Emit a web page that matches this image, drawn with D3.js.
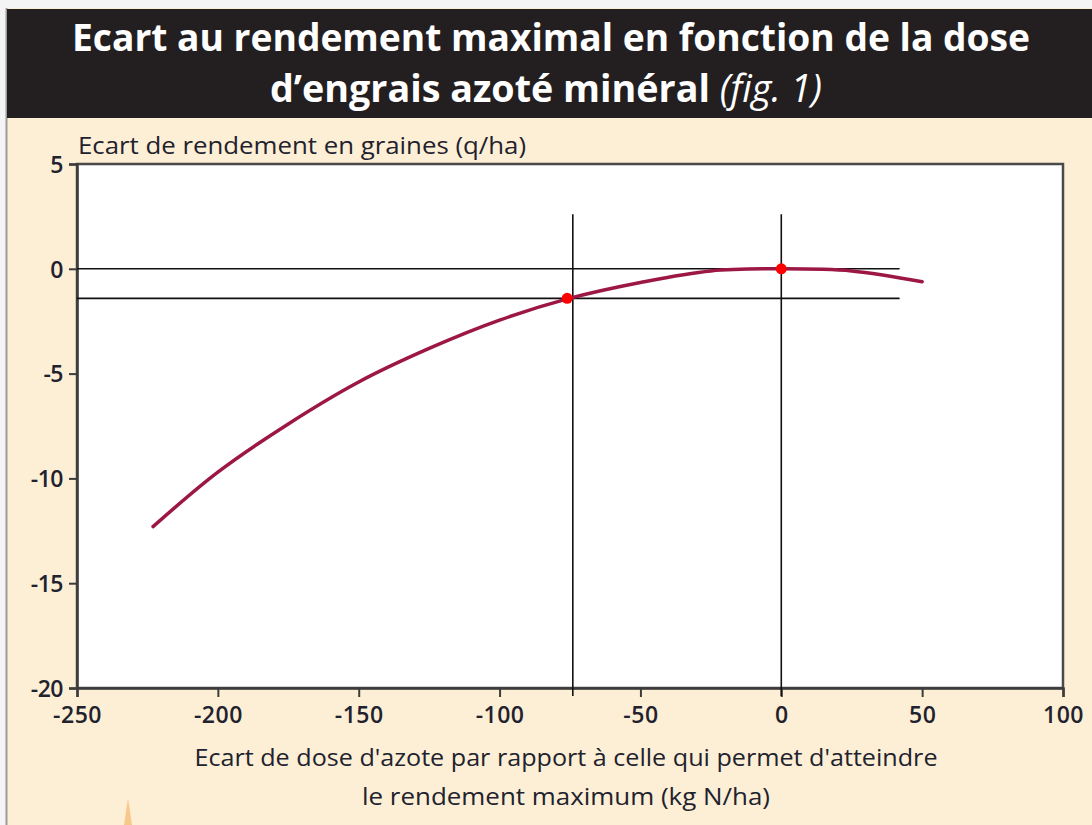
<!DOCTYPE html>
<html>
<head>
<meta charset="utf-8">
<script src="https://cdn.jsdelivr.net/npm/d3@7"></script>
<style>
	body { margin: 0; background: #ffffff; }
	svg { display: block; }
</style>
</head>
<body>
<div class="chart"></div>
<script>
///////////////////////////////////////////////////////////////////////////
//////////////////////////////// Data /////////////////////////////////////
///////////////////////////////////////////////////////////////////////////

	//Dose gap (kg N/ha) and yield gap (q/ha)
	var doseGap  = [-223, -200, -175, -150, -125, -100, -75, -50, -25, 0, 25, 50];
	var yieldGap = [-12.3, -9.7, -7.4, -5.4, -3.8, -2.45, -1.4, -0.65, -0.1, 0, -0.1, -0.62];

	//Marked points on the curve
	var markDose  = [-76, 0];
	var markYield = [-1.41, 0];

	//Reference lines
	var refVertical   = [-74, 0];
	var refHorizontal = [0, -1.41];

	var xTicks = [-250, -200, -150, -100, -50, 0, 50, 100];
	var yTicks = [5, 0, -5, -10, -15, -20];

	var titleLines = ["Ecart au rendement maximal en fonction de la dose", "d\u2019engrais azoté minéral "];
	var xTitleLines = ["Ecart de dose d'azote par rapport à celle qui permet d'atteindre", "le rendement maximum (kg N/ha)"];
	var yTitle = "Ecart de rendement en graines (q/ha)";

///////////////////////////////////////////////////////////////////////////
//////////////////////////////// Setup ////////////////////////////////////
///////////////////////////////////////////////////////////////////////////

	var width = 1092, height = 825;
	var margin = {left: 77, top: 164, right: 29, bottom: 137},
		plotWidth = width - margin.left - margin.right,
		plotHeight = height - margin.top - margin.bottom;

	var font = "'Open Sans', 'Noto Sans', sans-serif";

	var svg = d3.select(".chart").append("svg")
		.attr("width", width)
		.attr("height", height);

	//Cream page and frame
	svg.append("rect")
		.attr("x", 0).attr("y", 0)
		.attr("width", width).attr("height", height)
		.attr("fill", "#f4f4f4");
	svg.append("rect")
		.attr("x", 7).attr("y", 8)
		.attr("width", width - 7).attr("height", height - 8)
		.attr("fill", "#fdefd5");
	svg.append("line")
		.attr("x1", 6.5).attr("x2", 6.5)
		.attr("y1", 8).attr("y2", height)
		.style("stroke", "#9a9a9a")
		.style("stroke-width", 2);

	//Small orange mark bottom-left
	svg.append("path")
		.attr("d", "M124,825 L128,798 L132,825 Z")
		.attr("fill", "#f8c88a");

	//////////////////////////////////////////////////////
	//////////////////// Title band //////////////////////
	//////////////////////////////////////////////////////

	svg.append("rect")
		.attr("x", 7).attr("y", 9)
		.attr("width", width - 7).attr("height", 109)
		.attr("fill", "#231f20");

	svg.append("text")
		.attr("x", 551)
		.attr("y", 51)
		.style("text-anchor", "middle")
		.attr("fill", "#ffffff")
		.style("font-family", font)
		.style("font-weight", "bold")
		.style("font-size", "38px")
		.attr("textLength", 958)
		.attr("lengthAdjust", "spacingAndGlyphs")
		.text(titleLines[0]);

	var t2 = svg.append("text")
		.attr("x", 546)
		.attr("y", 102)
		.style("text-anchor", "middle")
		.attr("fill", "#ffffff")
		.style("font-family", font)
		.style("font-weight", "bold")
		.style("font-size", "38px")
		.attr("textLength", 552)
		.attr("lengthAdjust", "spacingAndGlyphs");
	t2.append("tspan").text(titleLines[1]);
	t2.append("tspan")
		.style("font-style", "italic")
		.style("font-weight", "normal")
		.text("(fig. 1)");

	//////////////////////////////////////////////////////
	////////////////////// Scales ////////////////////////
	//////////////////////////////////////////////////////

	var x = d3.scaleLinear().domain([-250, 100]).range([0, plotWidth]);
	var y = d3.scaleLinear().domain([-20, 5]).range([plotHeight, 0]);

	var chartWrapper = svg.append("g")
		.attr("class", "chartWrapper")
		.attr("transform", "translate(" + margin.left + "," + margin.top + ")");

	//White plot area with frame
	chartWrapper.append("rect")
		.attr("x", 0).attr("y", 0)
		.attr("width", plotWidth).attr("height", plotHeight)
		.attr("fill", "#ffffff")
		.style("stroke", "#4a4a4a")
		.style("stroke-width", 2.5);

	//Axes (plain hyphen for negative numbers, as in the print)
	var fmt = function(d) { return String(d); };
	var yAxis = chartWrapper.append("g")
		.attr("class", "y axis")
		.call(d3.axisLeft(y).tickValues(yTicks).tickSize(8).tickPadding(6).tickFormat(fmt));
	var xAxis = chartWrapper.append("g")
		.attr("class", "x axis")
		.attr("transform", "translate(0," + plotHeight + ")")
		.call(d3.axisBottom(x).tickValues(xTicks).tickSize(9).tickPadding(10).tickFormat(fmt));

	svg.selectAll(".axis .domain")
		.style("stroke", "#3c3c3c")
		.style("stroke-width", 2.5);
	svg.selectAll(".axis .tick line")
		.style("stroke", "#3c3c3c")
		.style("stroke-width", 2);
	svg.selectAll(".axis text")
		.attr("fill", "#22222e")
		.style("font-family", font)
		.style("font-weight", 600)
		.style("font-size", "23px");
	yAxis.selectAll("text").attr("dy", "0.36em").style("letter-spacing", "-0.5px");
	xAxis.selectAll("text").attr("dy", "0.71em").style("letter-spacing", "0.5px");

	//////////////////////////////////////////////////////
	////////////////// Reference lines ///////////////////
	//////////////////////////////////////////////////////

	chartWrapper.selectAll(".refH")
		.data(refHorizontal)
		.enter().append("line")
		.attr("class", "refH")
		.attr("x1", x(-250))
		.attr("x2", x(42))
		.attr("y1", function(d) { return y(d); })
		.attr("y2", function(d) { return y(d); })
		.style("stroke", "#111")
		.style("stroke-width", 1.6);

	chartWrapper.selectAll(".refV")
		.data(refVertical)
		.enter().append("line")
		.attr("class", "refV")
		.attr("x1", function(d) { return x(d); })
		.attr("x2", function(d) { return x(d); })
		.attr("y1", y(2.6))
		.attr("y2", y(-20) + 8)
		.style("stroke", "#111")
		.style("stroke-width", 1.6);

	//////////////////////////////////////////////////////
	/////////////////////// Curve ////////////////////////
	//////////////////////////////////////////////////////

	var line = d3.line()
		.x(function(d, i) { return x(doseGap[i]); })
		.y(function(d, i) { return y(yieldGap[i]); })
		.curve(d3.curveCatmullRom);

	chartWrapper.append("path")
		.datum(doseGap)
		.attr("d", line)
		.attr("fill", "none")
		.style("stroke", "#9c1745")
		.style("stroke-width", 3.5)
		.style("stroke-linecap", "round");

	chartWrapper.selectAll(".mark")
		.data(markDose)
		.enter().append("circle")
		.attr("class", "mark")
		.attr("cx", function(d) { return x(d); })
		.attr("cy", function(d, i) { return y(markYield[i]); })
		.attr("r", 5.5)
		.attr("fill", "#ff0000");

	//////////////////////////////////////////////////////
	//////////////////// Axis titles /////////////////////
	//////////////////////////////////////////////////////

	svg.append("text")
		.attr("x", 78)
		.attr("y", 154)
		.attr("fill", "#22222e")
		.style("font-family", font)
		.style("font-size", "23px")
		.attr("textLength", 448)
		.attr("lengthAdjust", "spacingAndGlyphs")
		.text(yTitle);

	svg.selectAll(".xTitle")
		.data(xTitleLines)
		.enter().append("text")
		.attr("class", "xTitle")
		.attr("x", 566)
		.attr("y", function(d, i) { return 766 + i * 39; })
		.style("text-anchor", "middle")
		.attr("fill", "#22222e")
		.style("font-family", font)
		.style("font-size", "24px")
		.attr("textLength", function(d, i) { return i === 0 ? 743 : 408; })
		.attr("lengthAdjust", "spacingAndGlyphs")
		.text(function(d) { return d; });
</script>
</body>
</html>
